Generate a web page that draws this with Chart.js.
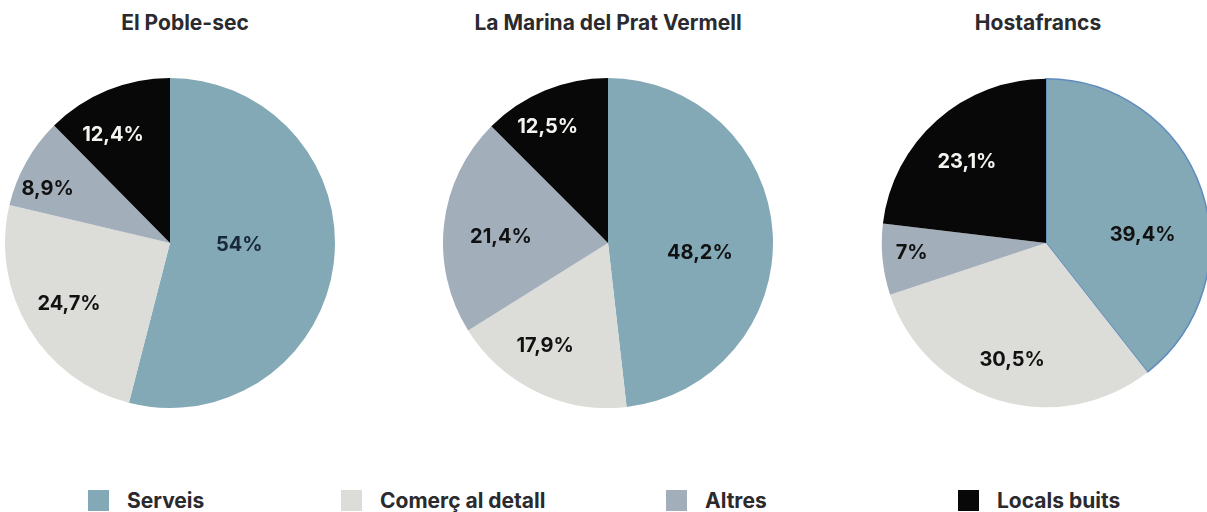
<!DOCTYPE html>
<html lang="ca">
<head>
  <meta charset="UTF-8">
  <title>Locals per barri</title>
  <script src="https://cdn.jsdelivr.net/npm/chart.js"></script>
  <style>
    body {
      margin: 0;
      width: 1207px;
      height: 512px;
      overflow: hidden;
      background: #ffffff;
      font-family: Inter, "Noto Sans", Arial, sans-serif;
      position: relative;
    }
    .title {
      position: absolute;
      top: 10px;
      font-size: 21px;
      font-weight: 700;
      color: #2b2a2e;
      transform: translateX(-50%);
      white-space: nowrap;
    }
    .pie {
      position: absolute;
      top: 78px;
      width: 330px;
      height: 330px;
    }
    .legend-item {
      position: absolute;
      top: 488px;
      display: flex;
      align-items: center;
      font-size: 21px;
      font-weight: 700;
      color: #2b2a2e;
      white-space: nowrap;
    }
    .legend-item span.box {
      width: 21px;
      height: 21px;
      margin-right: 18px;
    }
  </style>
</head>
<body>
  <div class="title" style="left:185px">El Poble-sec</div>
  <div class="title" style="left:608px">La Marina del Prat Vermell</div>
  <div class="title" style="left:1038px">Hostafrancs</div>

  <div class="pie" style="left:5px"><canvas id="pie1"></canvas></div>
  <div class="pie" style="left:443px"><canvas id="pie2"></canvas></div>
  <div class="pie" style="left:881px"><canvas id="pie3"></canvas></div>

  <div id="legend"></div>

  <script>
    const categories = ['Serveis', 'Comerç al detall', 'Altres', 'Locals buits'];
    const pobleSec = [54, 24.7, 8.9, 12.4];
    const marinaPrat = [48.2, 17.9, 21.4, 12.5];
    const hostafrancs = [39.4, 30.5, 7, 23.1];

    const colors = ['#84a9b6', '#dcdcd8', '#a3aebb', '#080808'];
    const labelColors = ['#111111', '#111111', '#111111', '#f5f5f0'];

    // label placement: [fraction of radius, angle shift in radians]
    const labelPos1 = [[0.42, -0.1], [0.715, 0], [0.81, -0.1], [0.74, -0.096]];
    const labelPos2 = [[0.56, 0.164], [0.73, 0.1], [0.65, -0.058], [0.79, -0.089]];
    const labelPos3 = [[0.59, 0.25], [0.74, -0.01], [0.82, 0.028], [0.69, -0.047]];

    const legendLeft = [88, 341, 666, 958];

    const sliceLabels = {
      id: 'sliceLabels',
      afterDatasetsDraw(chart, args, opts) {
        const ctx = chart.ctx;
        const meta = chart.getDatasetMeta(0);
        const values = chart.data.datasets[0].data;
        ctx.save();
        ctx.font = '700 20px Inter, "Noto Sans", Arial, sans-serif';
        ctx.textAlign = 'center';
        ctx.textBaseline = 'middle';
        meta.data.forEach((arc, i) => {
          const p = arc.getProps(['x', 'y', 'startAngle', 'endAngle', 'outerRadius']);
          const mid = (p.startAngle + p.endAngle) / 2 + opts.pos[i][1];
          const r = p.outerRadius * opts.pos[i][0];
          ctx.fillStyle = labelColors[i];
          if (i === 0 && opts.darkBlue) ctx.fillStyle = '#17283a';
          const txt = String(values[i]).replace('.', ',') + '%';
          ctx.fillText(txt, p.x + Math.cos(mid) * r, p.y + Math.sin(mid) * r);
        });
        ctx.restore();
      }
    };

    function makePie(id, values, pos, border) {
      new Chart(document.getElementById(id), {
        type: 'pie',
        data: {
          labels: categories,
          datasets: [{
            data: values,
            backgroundColor: colors,
            borderWidth: border ? [1.5, 0, 0, 0] : 0,
            borderColor: border ? ['#5f8cc0', '#fff', '#fff', '#fff'] : '#fff'
          }]
        },
        options: {
          responsive: true,
          maintainAspectRatio: false,
          animation: false,
          layout: { padding: 0 },
          plugins: {
            legend: { display: false },
            tooltip: { enabled: false },
            sliceLabels: { pos: pos, darkBlue: id === 'pie1' }
          }
        },
        plugins: [sliceLabels]
      });
    }

    makePie('pie1', pobleSec, labelPos1, false);
    makePie('pie2', marinaPrat, labelPos2, false);
    makePie('pie3', hostafrancs, labelPos3, true);

    const legend = document.getElementById('legend');
    categories.forEach((c, i) => {
      const item = document.createElement('div');
      item.className = 'legend-item';
      item.style.left = legendLeft[i] + 'px';
      item.innerHTML = '<span class="box" style="background:' + colors[i] + '"></span>' + c;
      legend.appendChild(item);
    });
  </script>
</body>
</html>
